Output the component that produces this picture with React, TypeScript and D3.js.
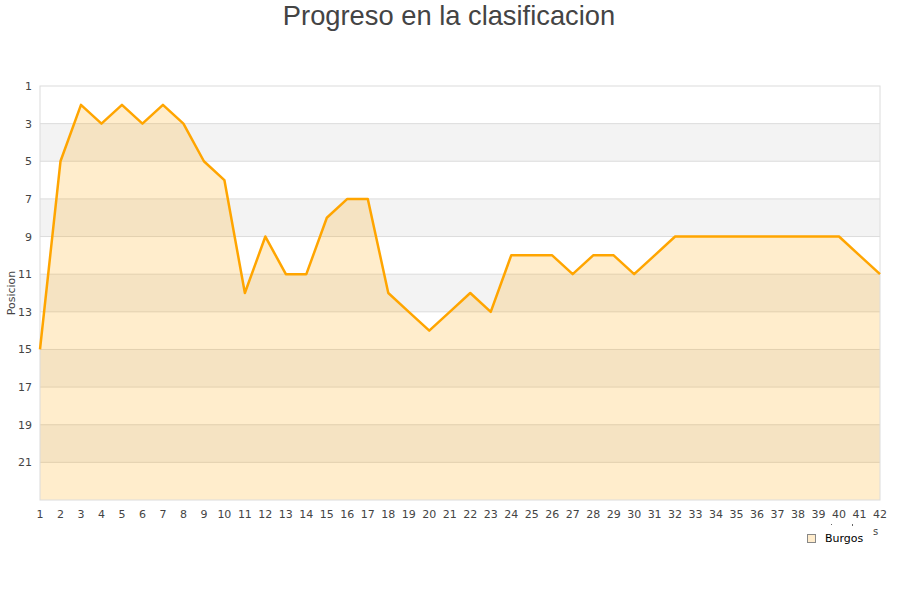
import React from "react";
import * as d3 from "d3";

const jornadas: number[] = Array.from({ length: 42 }, (_, i) => i + 1);
const posiciones: number[] = [
  15, 5, 2, 3, 2, 3, 2, 3, 5, 6, 12, 9, 11, 11, 8, 7, 7, 12, 13, 14, 13, 12, 13,
  10, 10, 10, 11, 10, 10, 11, 10, 9, 9, 9, 9, 9, 9, 9, 9, 9, 10, 11,
];
const yTicks: number[] = [1, 3, 5, 7, 9, 11, 13, 15, 17, 19, 21];
const title = "Progreso en la clasificacion";
const yLabel = "Posicion";
const seriesName = "Burgos";

export default function App() {
  const W = 900,
    H = 600;
  const left = 40,
    right = 880,
    top = 86,
    bottom = 500;
  const x = d3.scaleLinear().domain([1, 42]).range([left, right]);
  const y = d3.scaleLinear().domain([1, 23]).range([top, bottom]);
  const font = "DejaVu Sans, Verdana, sans-serif";

  const line = d3
    .line<number>()
    .x((_, i) => x(jornadas[i]))
    .y((d) => y(d));
  const area = d3
    .area<number>()
    .x((_, i) => x(jornadas[i]))
    .y0(y(23))
    .y1((d) => y(d));

  const bands = [];
  for (let v = 3; v < 23; v += 4) {
    bands.push(v);
  }

  return (
    <svg width={W} height={H} style={{ position: "absolute", left: 0, top: 0 }}>
      <rect x={0} y={0} width={W} height={H} fill="#fff" />
      <text
        x={449}
        y={25}
        textAnchor="middle"
        fontFamily="Liberation Sans, Arial, sans-serif"
        fontSize={27.3}
        fill="#444"
      >
        {title}
      </text>
      {bands.map((v) => (
        <rect
          key={v}
          x={left}
          y={y(v)}
          width={right - left}
          height={y(v + 2) - y(v)}
          fill="#f3f3f3"
        />
      ))}
      {yTicks.slice(1).map((v) => (
        <line
          key={v}
          x1={left}
          x2={right}
          y1={y(v)}
          y2={y(v)}
          stroke="#dcdcdc"
          strokeWidth={1}
        />
      ))}
      <path d={area(posiciones) || ""} fill="rgba(255,165,0,0.2)" />
      <rect
        x={left}
        y={top}
        width={right - left}
        height={bottom - top}
        fill="none"
        stroke="#dcdcdc"
        strokeWidth={1}
      />
      <path
        d={line(posiciones) || ""}
        fill="none"
        stroke="#ffa500"
        strokeWidth={2.5}
        strokeLinejoin="round"
      />
      {yTicks.map((v) => (
        <text
          key={v}
          x={32}
          y={y(v) + 4}
          textAnchor="end"
          fontFamily={font}
          fontSize={11}
          fill="#444"
        >
          {v}
        </text>
      ))}
      {jornadas.map((j) => (
        <text
          key={j}
          x={x(j)}
          y={518}
          textAnchor="middle"
          fontFamily={font}
          fontSize={11}
          fill="#444"
        >
          {j}
        </text>
      ))}
      <text
        transform={`translate(15,${(top + bottom) / 2}) rotate(-90)`}
        textAnchor="middle"
        fontFamily={font}
        fontSize={11}
        fill="#444"
      >
        {yLabel}
      </text>
      <text x={873} y={535} fontFamily={font} fontSize={10} fill="#444">
        s
      </text>
      <rect x={831} y={524} width={1} height={1} fill="#666" />
      <rect x={852} y={524} width={1} height={2} fill="#666" />
      <rect
        x={807.5}
        y={534.5}
        width={8}
        height={8}
        fill="#ffeccc"
        stroke="#888"
        strokeWidth={1}
      />
      <text x={825} y={542} fontFamily={font} fontSize={11} fill="#000">
        {seriesName}
      </text>
    </svg>
  );
}
